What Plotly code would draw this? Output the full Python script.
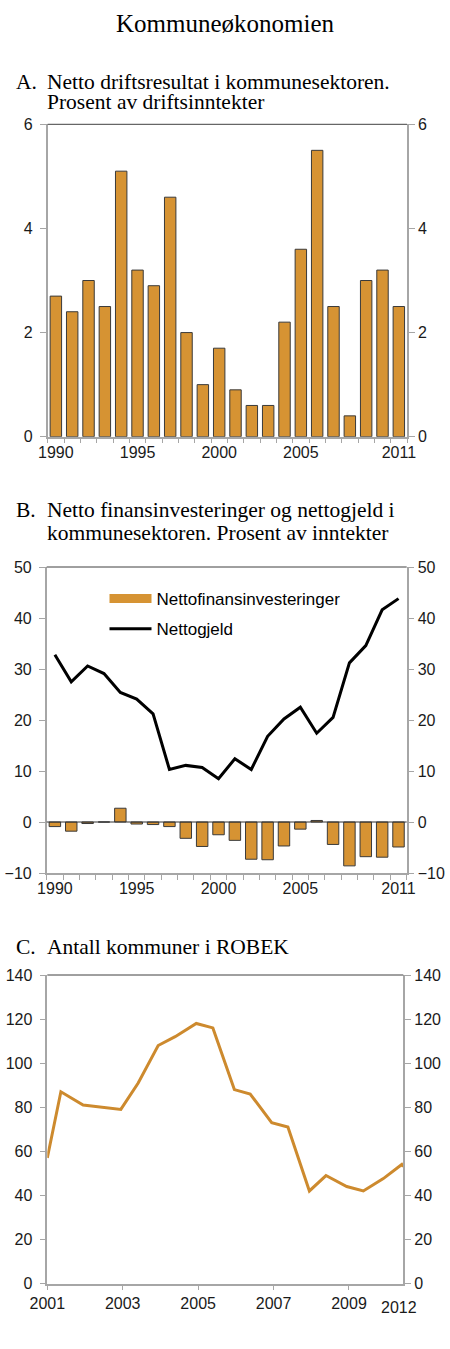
import plotly.graph_objects as go

# A. Netto driftsresultat i kommunesektoren (prosent av driftsinntekter)
years_a = list(range(1990, 2012))
drift = [2.7, 2.4, 3.0, 2.5, 5.1, 3.2, 2.9, 4.6, 2.0, 1.0, 1.7,
         0.9, 0.6, 0.6, 2.2, 3.6, 5.5, 2.5, 0.4, 3.0, 3.2, 2.5]

# B. Nettofinansinvesteringer og nettogjeld (prosent av inntekter)
years_b = list(range(1990, 2012))
finans = [-0.9, -1.8, -0.3, 0.0, 2.7, -0.4, -0.5, -0.9, -3.2, -4.8, -2.5,
          -3.6, -7.3, -7.4, -4.7, -1.4, 0.3, -4.4, -8.6, -6.8, -6.9, -4.9]
gjeld = [32.8, 27.5, 30.6, 29.1, 25.4, 24.1, 21.2, 10.3, 11.1, 10.7, 8.5,
         12.4, 10.3, 16.8, 20.2, 22.5, 17.4, 20.5, 31.2, 34.6, 41.6, 43.8]

# C. Antall kommuner i ROBEK
t_c = [2001.0, 2001.36, 2001.95, 2002.49, 2002.95, 2003.41, 2003.94, 2004.39,
       2004.95, 2005.39, 2005.96, 2006.38, 2006.95, 2007.38, 2007.95, 2008.39,
       2008.94, 2009.38, 2009.91, 2010.40, 2010.44]
robek = [57, 87, 81, 80, 79, 91, 108, 112, 118, 116, 88, 86, 73, 71, 42, 49,
         44, 42, 47.6, 54, 53]

ticks_ab = [1990, 1995, 2000, 2005, 2011]
ticks_c = [2001, 2003, 2005, 2007, 2009]

BAR = "#D69333"
LINE_C = "#CD8A2E"
AX = "#A6A6A6"
SANS = "Liberation Sans, Arial, sans-serif"
SERIF = "Liberation Serif, Times New Roman, serif"

W, H = 450.0, 1349.0


def px(x):
    return x / W


def py(y):
    return 1 - y / H


fig = go.Figure()

# panel A
fig.add_trace(go.Bar(x=years_a, y=drift, width=0.7, marker_color=BAR,
                     marker_line=dict(color="#3a3a3a", width=1),
                     xaxis="x", yaxis="y", showlegend=False))
fig.add_trace(go.Scatter(x=years_a, y=drift, opacity=0, hoverinfo="skip",
                         xaxis="x", yaxis="y2", showlegend=False))

# panel B
fig.add_trace(go.Bar(x=years_b, y=finans, width=0.7, marker_color=BAR,
                     marker_line=dict(color="#3a3a3a", width=1),
                     xaxis="x2", yaxis="y3", showlegend=False))
# legend entry drawn as a wide bar swatch
fig.add_trace(go.Scatter(x=[None], y=[None], mode="lines",
                         line=dict(color=BAR, width=9),
                         name="Nettofinansinvesteringer", legendgroup="a",
                         xaxis="x2", yaxis="y3"))
fig.add_trace(go.Scatter(x=years_b, y=gjeld, mode="lines",
                         line=dict(color="black", width=3),
                         name="Nettogjeld", legendgroup="b",
                         xaxis="x2", yaxis="y3"))
fig.add_trace(go.Scatter(x=years_b, y=gjeld, opacity=0, hoverinfo="skip",
                         xaxis="x2", yaxis="y4", showlegend=False))

# panel C
fig.add_trace(go.Scatter(x=t_c, y=robek, mode="lines",
                         line=dict(color=LINE_C, width=3),
                         xaxis="x3", yaxis="y5", showlegend=False))
fig.add_trace(go.Scatter(x=t_c, y=robek, opacity=0, hoverinfo="skip",
                         xaxis="x3", yaxis="y6", showlegend=False))

tickfont = dict(family=SANS, size=16, color="#1a1a1a")


def xbar(domain, anchor):
    return dict(domain=domain, anchor=anchor, range=[1989.5, 2011.5],
                tickvals=ticks_ab, ticks="", showline=True, linecolor=AX,
                linewidth=1.5, showgrid=False, zeroline=False, tickfont=tickfont,
                automargin=False,
                minor=dict(ticks="outside", tick0=1989.5, dtick=1, ticklen=5,
                           tickcolor=AX, showgrid=False))


def yax(domain, anchor, rng, dtick, side="left", overlay=None):
    d = dict(domain=domain, anchor=anchor, range=rng, dtick=dtick,
             ticks="outside", ticklen=6, tickcolor=AX, showline=True,
             linecolor=AX, linewidth=1.5, showgrid=False, zeroline=False,
             tickfont=tickfont, side=side, automargin=False,
             ticklabelstandoff=4 if side == "left" else 0)
    if overlay:
        d["overlaying"] = overlay
    return d


fig.update_layout(
    template="none",
    width=W, height=H,
    margin=dict(l=0, r=0, t=0, b=0, pad=0),
    paper_bgcolor="white", plot_bgcolor="white",
    xaxis=xbar([px(47.7), px(407)], "y"),
    yaxis=yax([py(436.7), py(124.3)], "x", [0, 6], 2),
    yaxis2=yax([py(436.7), py(124.3)], "x", [0, 6], 2, "right", "y"),
    xaxis2=xbar([px(46.7), px(406.7)], "y3"),
    yaxis3=yax([py(873), py(567)], "x2", [-10, 50], 10),
    yaxis4=yax([py(873), py(567)], "x2", [-10, 50], 10, "right", "y3"),
    xaxis3=dict(domain=[px(47.3), px(403.3)], anchor="y5", range=[2001, 2010.44],
                tickvals=ticks_c, ticks="outside", ticklen=5, tickcolor=AX,
                showline=True, linecolor=AX, linewidth=1.5, showgrid=False,
                zeroline=False, tickfont=tickfont, automargin=False),
    yaxis5=yax([py(1283.5), py(975)], "x3", [0, 140], 20),
    yaxis6=yax([py(1283.5), py(975)], "x3", [0, 140], 20, "right", "y5"),
    legend=dict(x=px(104.5), y=py(581), xanchor="left", yanchor="top",
                font=dict(family=SANS, size=17, color="black"),
                bgcolor="rgba(0,0,0,0)", itemwidth=42,
                traceorder="grouped", tracegroupgap=5),
)

# zero line in panel B, top borders
fig.add_shape(type="line", xref="x2 domain", yref="y3", x0=0, x1=1, y0=0, y1=0,
              line=dict(color="#333333", width=1))
for xr, yr in [("x", "y"), ("x2", "y3"), ("x3", "y5")]:
    fig.add_shape(type="line", xref=xr + " domain", yref=yr + " domain",
                  x0=0, x1=1, y0=1, y1=1, line=dict(color="#404040", width=1))

titles = [
    ("Kommuneøkonomien", 225, "center", 24, 25),
    ("A.", 14, "left", 81.5, 21.5),
    ("Netto driftsresultat i kommunesektoren.", 45, "left", 81.5, 21.5),
    ("Prosent av driftsinntekter", 45, "left", 102.5, 21.5),
    ("B.", 14, "left", 509.5, 21.5),
    ("Netto finansinvesteringer og nettogjeld i", 45, "left", 509.5, 21.5),
    ("kommunesektoren. Prosent av inntekter", 45, "left", 532.5, 21.5),
    ("C.", 14, "left", 946.5, 21.5),
    ("Antall kommuner i ROBEK", 45, "left", 946.5, 21.5),
]
for txt, x, anc, ypix, size in titles:
    fig.add_annotation(text=txt, x=px(x), y=py(ypix), xref="paper", yref="paper",
                       xanchor=anc, yanchor="middle", showarrow=False,
                       font=dict(family=SERIF, size=size, color="black"))

fig.add_annotation(text="2012", x=px(399), y=py(1307), xref="paper", yref="paper",
                   xanchor="center", yanchor="middle", showarrow=False,
                   font=tickfont)

# drop the default page margin so the figure fills the window exactly
fig.write_html("out.html", config={"displayModeBar": False},
               post_script="document.body.style.margin='0';")
